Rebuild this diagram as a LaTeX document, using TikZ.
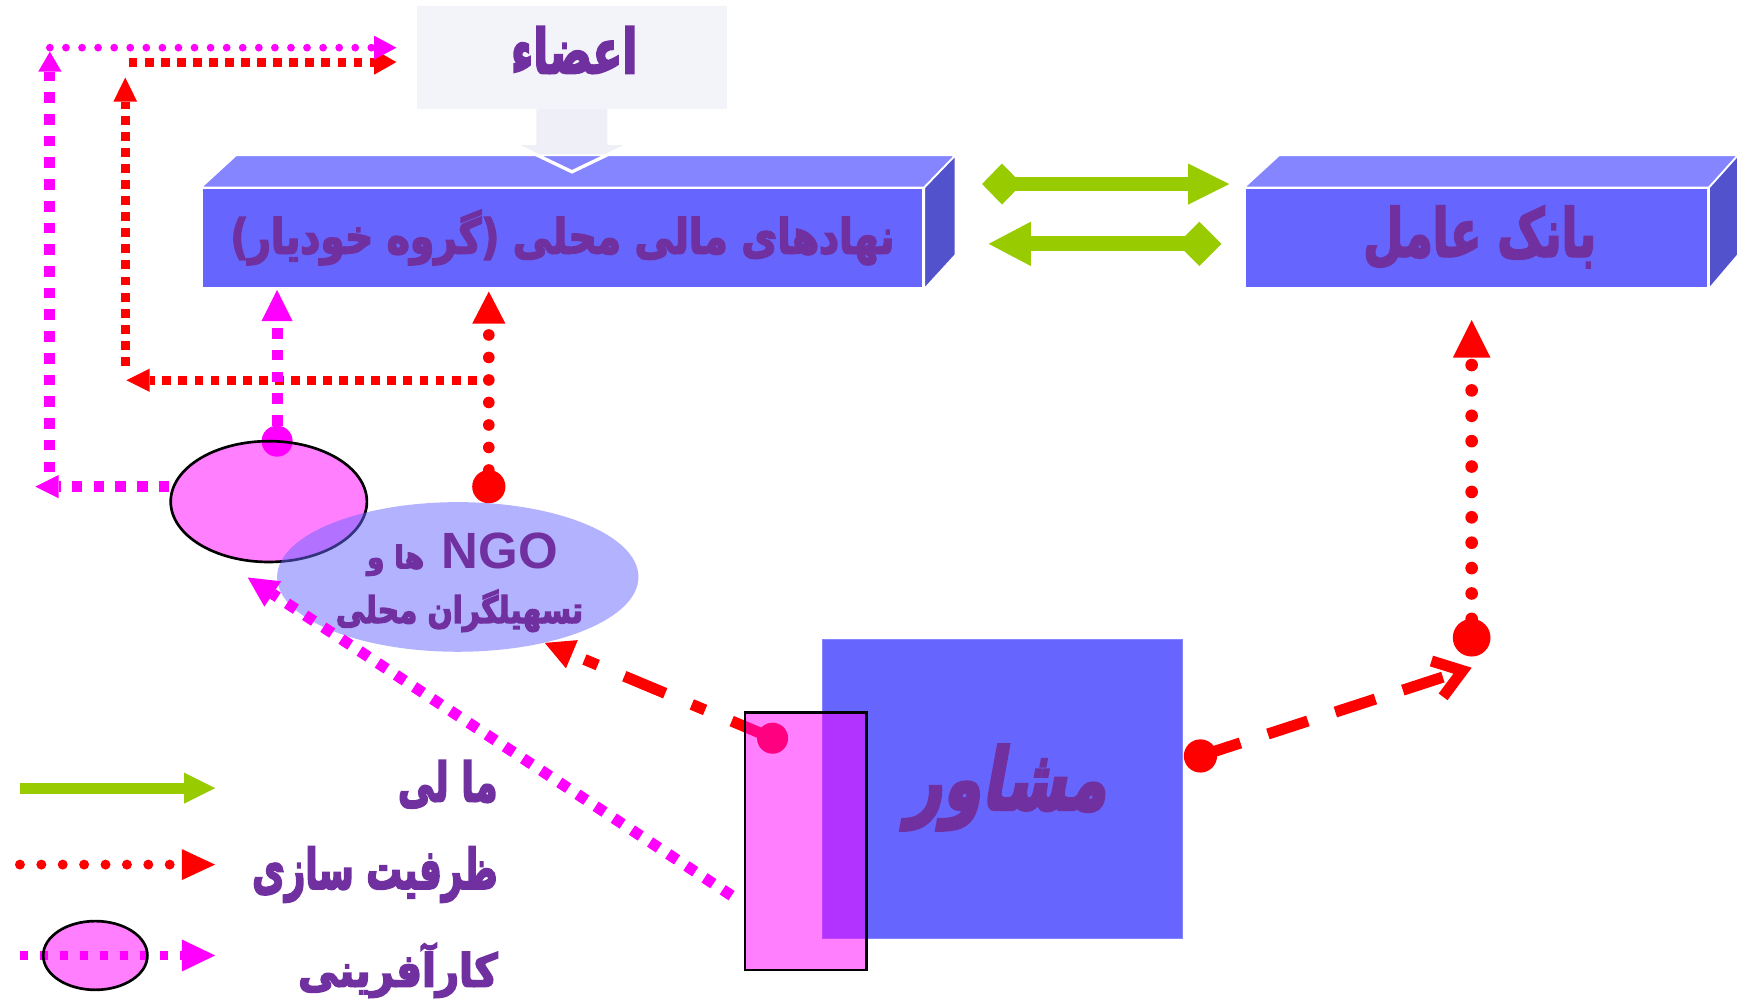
\documentclass[tikz,border=0pt]{standalone}
\usepackage{fontspec}
\usepackage{graphicx}
\usetikzlibrary{arrows.meta,shapes.geometric,calc}
\TeXXeTstate=1
\newfontfamily\arb[Script=Arabic,FakeBold=4]{DejaVu Sans}
\newfontfamily\arbsl[Script=Arabic,FakeSlant=0.25,FakeBold=4]{DejaVu Sans}
\newfontfamily\lib{Liberation Sans}
\definecolor{txtpurple}{HTML}{7030A0}
\definecolor{blkfront}{HTML}{6666FF}
\definecolor{blktop}{HTML}{8585FF}
\definecolor{blkside}{HTML}{5252CC}
\definecolor{grn}{HTML}{99CC00}
\definecolor{mag}{HTML}{FF00FF}
\definecolor{rd}{HTML}{FF0000}
\definecolor{pale}{HTML}{F3F3FA}
\definecolor{palearrow}{HTML}{EFEFF7}
\newcommand\fatxt[3]{\resizebox*{#1}{#2}{\arb\bfseries #3}}
\begin{document}
\begin{tikzpicture}[x=0.5pt,y=-0.5pt,
  txt/.style={text=txtpurple, inner sep=0pt, outer sep=0pt},
  face/.style={draw=white, line width=0.8pt},
  rsq/.style={draw=rd, line width=4pt, dash pattern=on 4pt off 3.25pt},
  msq/.style={draw=mag, line width=5pt, dash pattern=on 4.8pt off 5pt},
  rround/.style={draw=rd, line width=5.25pt, line cap=round, dash pattern=on 0pt off 10.15pt},
  mround/.style={draw=mag, line width=3.5pt, line cap=round, dash pattern=on 0pt off 7.25pt},
  dotnode/.style={circle, inner sep=0pt, outer sep=0pt},
  halfmag/.style={fill=mag, fill opacity=0.5, draw=black, line width=1.2pt, inner sep=0pt}
]
\useasboundingbox (0,0) rectangle (1568,902);
\fill[white] (0,0) rectangle (1568,902);

% members box with pale arrow
\fill[palearrow] (484,98) -- (548,98) -- (548,131) -- (566,131) -- (516,155) -- (466,131) -- (484,131) -- cycle;
\node[fill=pale, minimum width=140pt, minimum height=46.5pt, inner sep=0pt] (azaa) at (516,51.5) {};
\node[txt] (azaat) at (518,45) {\fatxt{57pt}{21pt}{\beginR اعضاء\endR}};

% block 1
\node[fill=blkfront, face, minimum width=325.5pt, minimum height=45pt, inner sep=0pt] (blk1) at (507.5,215) {};
\filldraw[fill=blktop, face] (blk1.north west) -- (213,140) -- (862,140) -- (blk1.north east) -- cycle;
\filldraw[fill=blkside, face] (blk1.north east) -- (862,140) -- (862,230) -- (blk1.south east) -- cycle;
\draw[white, line width=1.5pt] (466,131) -- (516,155) -- (566,131);
\node[txt] (blk1t) at (507.5,214.25) {\fatxt{299.5pt}{24.75pt}{\beginR نهادهای مالی محلی (گروه خودیار)\endR}};

% block 2
\node[fill=blkfront, face, minimum width=209pt, minimum height=45pt, inner sep=0pt] (blk2) at (1332,215) {};
\filldraw[fill=blktop, face] (blk2.north west) -- (1154,140) -- (1568,140) -- (blk2.north east) -- cycle;
\filldraw[fill=blkside, face] (blk2.north east) -- (1568,140) -- (1568,230) -- (blk2.south east) -- cycle;
\node[txt] (blk2t) at (1335,214) {\fatxt{105pt}{28pt}{\beginR بانک عامل\endR}};

% green arrows between blocks
\coordinate (gMs) at (886,166); \coordinate (gMe) at (1109,166);
\coordinate (gNs) at (1102,220); \coordinate (gNe) at (892,220);
\draw[grn, line width=6pt, {Diamond[length=18pt,width=18.5pt,line width=0pt]}-{Triangle[length=18.5pt,width=18.5pt,line width=0pt]}] (gMs) -- (gMe);
\draw[grn, line width=6.75pt, {Diamond[length=20pt,width=20pt,line width=0pt]}-{Triangle[length=19pt,width=20pt,line width=0pt]}] (gNs) -- (gNe);

% left loop connectors
\coordinate (rBs) at (430,343); \coordinate (rBe) at (114,343);
\coordinate (rCs) at (113,330); \coordinate (rCe) at (113,70);
\coordinate (rDs) at (116,56);  \coordinate (rDe) at (357.6,56);
\coordinate (mGs) at (45,426);  \coordinate (mGe) at (45,46.6);
\coordinate (mHs) at (45,43);   \coordinate (mHe) at (357.6,43);
\coordinate (mFe) at (32,439);
\draw[rsq, -{Triangle[length=10.5pt,width=10.5pt,line width=0pt]}] (rBs) -- (rBe);
\draw[rsq, -{Triangle[length=10.85pt,width=10.75pt,line width=0pt]}] (rCs) -- (rCe);
\draw[rsq, -{Triangle[length=10pt,width=11.35pt,line width=0pt]}] (rDs) -- (rDe);
\draw[msq, -{Triangle[length=9pt,width=10.5pt,line width=0pt]}] (mGs) -- (mGe);
\draw[mround, -{Triangle[length=10pt,width=10.75pt,line width=0pt]}] (mHs) -- (mHe);

% dots above ellipses
\node[dotnode, fill=rd, minimum size=15pt] (rdot1) at (441,439) {};
\node[dotnode, fill=mag, minimum size=14pt] (mdot) at (250,398) {};

% ellipses
\node[ellipse, halfmag, minimum width=88.5pt, minimum height=54.5pt] (pinkell) at (242.5,452.5) {};
\node[ellipse, fill=blkfront, fill opacity=0.5, inner sep=0pt, minimum width=163pt, minimum height=67.5pt] (ngo) at (413,520.5) {};
\node[txt, anchor=base] (ngot1) at (417.3,512.6) {\hbox{\resizebox*{25.8pt}{14pt}{\arb\bfseries\beginR ها و\endR}\hspace{8pt}{\lib\bfseries\fontsize{23pt}{23pt}\selectfont NGO}}};
\node[txt] (ngot2) at (414.5,551) {\fatxt{111.5pt}{19pt}{\beginR تسهیلگران محلی\endR}};

\coordinate (rAe) at (441,263);
\coordinate (mEe) at (250,261.6);
\draw[rround, -{Triangle[length=14.5pt,width=15pt,line width=0pt]}] (rdot1.north) -- (rAe);
\draw[msq, -{Triangle[length=14pt,width=14pt,line width=0pt]}] (mdot.north) -- (mEe);
\draw[msq, -{Triangle[length=10.5pt,width=10.5pt,line width=0pt]}] (pinkell.west |- mFe) -- (mFe);

% consultant square
\node[fill=blkfront, draw=blktop, line width=0.4pt, minimum width=162.7pt, minimum height=135.25pt, inner sep=0pt] (moshaver) at (904.3,711.75) {};
\node[txt] (moshavert) at (908,710.5) {\resizebox*{90pt}{38.5pt}{\arbsl\bfseries\beginR مشاور\endR}};

% red dash-dot to NGO
\node[dotnode, fill=rd, minimum size=14pt] (rdot2) at (697,666) {};
\coordinate (rJe) at (491.5,580);
\draw[draw=rd, line width=5pt, dash pattern=on 20pt off 13pt on 6.5pt off 13pt, -{Triangle[length=13.25pt,width=13.8pt,line width=0pt]}] (rdot2.center) -- (rJe);
\node[halfmag, minimum width=55pt, minimum height=116pt] (pinkrect) at (727,759) {};

% magenta diagonal
\coordinate (mIs) at (660,808); \coordinate (mIe) at (223.5,521);
\draw[msq, -{Triangle[length=13.5pt,width=13.7pt,line width=0pt]}] (mIs) -- (mIe);

% right side: consultant to bank
\node[dotnode, fill=rd, minimum size=15pt] (rdot3) at (1083,682) {};
\node[dotnode, fill=rd, minimum size=17pt] (rdot4) at (1327.7,575.3) {};
\coordinate (rKe) at (1327.7,602.4);
\coordinate (rLe) at (1327.7,288.7);
\draw[draw=rd, line width=5pt, dash pattern=on 19pt off 13pt, -{Straight Barb[length=12pt,width=17pt]}] (rdot3.center) -- (rKe);
\draw[rround, line width=5.7pt, dash pattern=on 0pt off 11.45pt, -{Triangle[length=17pt,width=17pt,line width=0pt]}] (rdot4.north) -- (rLe);

% legend
\coordinate (lg1s) at (18,711); \coordinate (lg1e) at (194,711);
\coordinate (lg2s) at (18,780); \coordinate (lg2e) at (194,780);
\coordinate (lg3s) at (18,862); \coordinate (lg3e) at (194,862);
\draw[grn, line width=5pt, -{Triangle[length=14pt,width=14pt,line width=0pt]}] (lg1s) -- (lg1e);
\draw[rd, line width=4.5pt, line cap=round, dash pattern=on 0pt off 9.65pt, -{Triangle[length=15pt,width=14pt,line width=0pt]}] (lg2s) -- (lg2e);
\draw[mag, line width=4.2pt, dash pattern=on 3.8pt off 5.2pt, -{Triangle[length=15pt,width=14.5pt,line width=0pt]}] (lg3s) -- (lg3e);
\node[ellipse, halfmag, minimum width=47pt, minimum height=31pt] (lgell) at (86,862) {};
\node[txt] (lgt1) at (404,707.5) {\fatxt{45pt}{21.5pt}{\beginR ما لی\endR}};
\node[txt] (lgt2) at (338.25,789) {\fatxt{110.75pt}{25pt}{\beginR ظرفیت سازی\endR}};
\node[txt] (lgt3) at (359,875.5) {\fatxt{90pt}{24.5pt}{\beginR کارآفرینی\endR}};
\end{tikzpicture}
\end{document}
